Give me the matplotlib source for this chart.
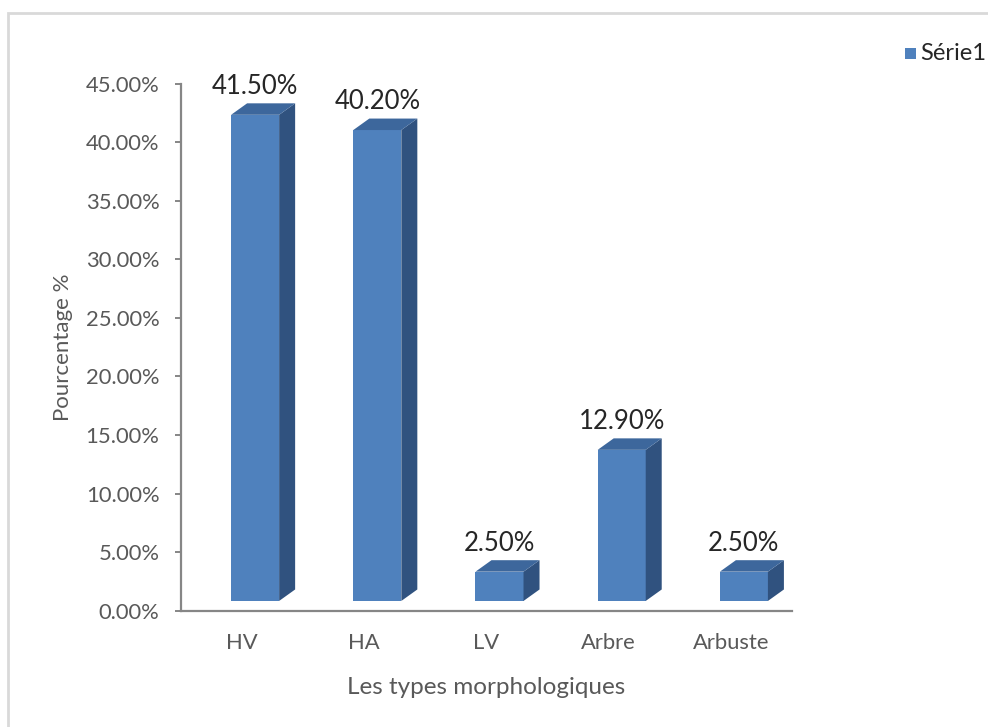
import matplotlib

matplotlib.use("Agg")

import matplotlib.pyplot as plt
from matplotlib.patches import Polygon, Rectangle
from matplotlib.ticker import FuncFormatter

categories = ["HV", "HA", "LV", "Arbre", "Arbuste"]
values = [41.5, 40.2, 2.5, 12.9, 2.5]
series_name = "Série1"

FRONT = "#4F81BD"
TOP = "#3D679C"
SIDE = "#30527F"
GREY_TEXT = "#595959"

plt.rcParams["font.family"] = ["Lato", "DejaVu Sans"]

fig = plt.figure(figsize=(9.88, 7.27), dpi=100)
ax = fig.add_axes([0.1832, 0.16, 0.6184, 0.7251])

# pseudo-3D column geometry (data units)
left_off = 0.41
width = 0.393
depth_x = 0.131
depth_y = 0.98
base = 0.83

for i, v in enumerate(values):
    x0 = i + left_off
    x1 = x0 + width
    y0 = base
    y1 = base + v
    ax.add_patch(Rectangle((x0, y0), width, v, facecolor=FRONT, edgecolor="none", zorder=3))
    ax.add_patch(Polygon([(x1, y0), (x1 + depth_x, y0 + depth_y), (x1 + depth_x, y1 + depth_y), (x1, y1)],
                         closed=True, facecolor=SIDE, edgecolor="none", zorder=3))
    ax.add_patch(Polygon([(x0, y1), (x1, y1), (x1 + depth_x, y1 + depth_y), (x0 + depth_x, y1 + depth_y)],
                         closed=True, facecolor=TOP, edgecolor="none", zorder=3))
    ax.text(x0 + width / 2, y1 + depth_y + 0.4, f"{v:.2f}%", ha="center", va="bottom",
            fontsize=18.5, color="#262626", zorder=4)

ax.set_xlim(0, len(categories))
ax.set_ylim(0, 45)
ax.set_yticks(range(0, 46, 5))
ax.yaxis.set_major_formatter(FuncFormatter(lambda y, _: f"{y:.2f}%"))
ax.set_xticks([i + 0.5 for i in range(len(categories))])
ax.set_xticklabels(categories)

for side in ("top", "right"):
    ax.spines[side].set_visible(False)
for side in ("left", "bottom"):
    ax.spines[side].set_color("#868686")
    ax.spines[side].set_linewidth(1.6)

ax.tick_params(axis="y", direction="out", length=4.5, width=1.4, color="#868686",
               pad=11, labelsize=15.8, labelcolor=GREY_TEXT)
ax.tick_params(axis="x", length=0, pad=16, labelsize=15.8, labelcolor=GREY_TEXT)

ax.set_xlabel("Les types morphologiques", fontsize=17.5, color=GREY_TEXT, labelpad=17)
ax.set_ylabel("Pourcentage %", fontsize=16, color=GREY_TEXT, labelpad=9)

# legend (cut off at the right edge like the reference)
fig.patches.append(Rectangle((905 / 988, 1 - 59 / 727), 11 / 988, 11 / 727,
                             transform=fig.transFigure, facecolor=FRONT, edgecolor="none"))
fig.text(920 / 988, 1 - 53 / 727, series_name, fontsize=17, color="#262626", va="center", ha="left")

# outer chart frame
fig.patches.append(Rectangle((8 / 988, -0.05), 1.1, 1 - 13 / 727 + 0.05, transform=fig.transFigure,
                             facecolor="none", edgecolor="#D9D9D9", linewidth=2))

fig.savefig("out.png", dpi=100)
